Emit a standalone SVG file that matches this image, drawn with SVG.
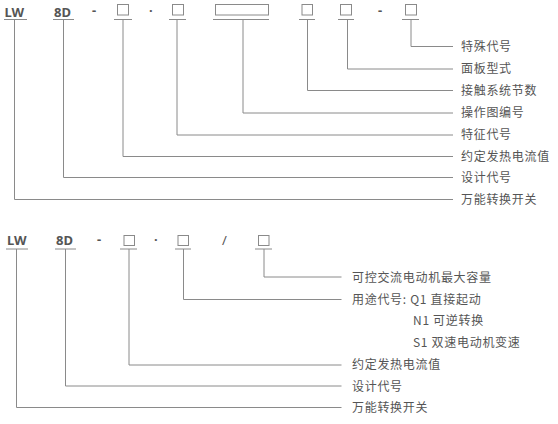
<svg xmlns="http://www.w3.org/2000/svg" width="558" height="424" viewBox="0 0 558 424">
<style>
.code{font-family:"Noto Sans","Noto Sans CJK SC",sans-serif;font-size:13px;font-weight:bold;fill:#555}
.thin{font-weight:normal}
.lbl{font-family:"Noto Sans CJK SC","Noto Sans",sans-serif;font-size:12px;fill:#555;letter-spacing:0.7px}
.box{fill:#fff;stroke:#8a8a8a;stroke-width:1}
.ln{fill:none;stroke:#8a8a8a;stroke-width:1}
</style>
<rect width="558" height="424" fill="#fff"/>
<g id="top">
<g id="t-lw"><text class="code" x="4.5" y="16.5">LW</text><line class="ln" x1="4" y1="19.5" x2="27" y2="19.5"/></g>
<g id="t-8d"><text class="code" x="54" y="16.5">8D</text><line class="ln" x1="53" y1="19.5" x2="74" y2="19.5"/></g>
<g id="t-dash1"><text class="code" x="92" y="15">-</text></g>
<g id="t-box1"><rect class="box" x="117.5" y="4.5" width="11" height="10.5"/><line class="ln" x1="114" y1="19.5" x2="132" y2="19.5"/></g>
<g id="t-dot"><text class="code" x="149" y="15">·</text></g>
<g id="t-box2"><rect class="box" x="172.5" y="4.5" width="11" height="10.5"/><line class="ln" x1="169" y1="19.5" x2="186" y2="19.5"/></g>
<g id="t-wide"><rect class="box" x="215.5" y="4.5" width="53" height="10.5"/><line class="ln" x1="213" y1="19.5" x2="269" y2="19.5"/></g>
<g id="t-box3"><rect class="box" x="302" y="4.5" width="10.5" height="10.5"/><line class="ln" x1="299" y1="19.5" x2="315" y2="19.5"/></g>
<g id="t-box4"><rect class="box" x="340.5" y="4.5" width="11" height="10.5"/><line class="ln" x1="338" y1="19.5" x2="354" y2="19.5"/></g>
<g id="t-dash2"><text class="code" x="378" y="15">-</text></g>
<g id="t-box5"><rect class="box" x="405.5" y="4.5" width="11" height="10.5"/><line class="ln" x1="402" y1="19.5" x2="419" y2="19.5"/></g>
<g id="t-labels">
<text class="lbl" x="461" y="51">特殊代号</text>
<text class="lbl" x="461" y="73">面板型式</text>
<text class="lbl" x="461" y="95">接触系统节数</text>
<text class="lbl" x="461" y="117">操作图编号</text>
<text class="lbl" x="461" y="139">特征代号</text>
<text class="lbl" x="461" y="161">约定发热电流值</text>
<text class="lbl" x="461" y="182">设计代号</text>
<text class="lbl" x="461" y="203.5">万能转换开关</text>
</g>
</g>
<g id="connectors-top">
<polyline class="ln" points="411,19.5 411,46.5 453,46.5"/>
<polyline class="ln" points="347.5,19.5 347.5,69 453,69"/>
<polyline class="ln" points="307.5,19.5 307.5,90.5 453,90.5"/>
<polyline class="ln" points="243,19.5 243,113 453,113"/>
<polyline class="ln" points="177,19.5 177,135 453,135"/>
<polyline class="ln" points="123,19.5 123,156.5 453,156.5"/>
<polyline class="ln" points="63.5,19.5 63.5,177.5 453,177.5"/>
<polyline class="ln" points="14.5,19.5 14.5,199.5 453,199.5"/>
</g>
<g id="bottom">
<g id="b-lw"><text class="code" x="7" y="245">LW</text><line class="ln" x1="6" y1="249" x2="28" y2="249"/></g>
<g id="b-8d"><text class="code" x="56" y="245">8D</text><line class="ln" x1="55" y1="249" x2="76" y2="249"/></g>
<g id="b-dash"><text class="code" x="97" y="244">-</text></g>
<g id="b-box1"><rect class="box" x="124" y="235.5" width="10.5" height="10"/><line class="ln" x1="120" y1="249" x2="137" y2="249"/></g>
<g id="b-dot"><text class="code" x="154" y="244">·</text></g>
<g id="b-box2"><rect class="box" x="178" y="235.5" width="10.5" height="10"/><line class="ln" x1="175" y1="249" x2="191" y2="249"/></g>
<g id="b-slash"><text class="code thin" x="222" y="245">/</text></g>
<g id="b-box3"><rect class="box" x="258.5" y="235.5" width="10.5" height="10"/><line class="ln" x1="255" y1="249" x2="272" y2="249"/></g>
<g id="b-labels">
<text class="lbl" x="352" y="281.5">可控交流电动机最大容量</text>
<text class="lbl" x="352" y="303.5">用途代号: Q1 直接起动</text>
<text class="lbl" x="413" y="325">N1 可逆转换</text>
<text class="lbl" x="413" y="347">S1 双速电动机变速</text>
<text class="lbl" x="352" y="369">约定发热电流值</text>
<text class="lbl" x="352" y="390.5">设计代号</text>
<text class="lbl" x="352" y="412">万能转换开关</text>
</g>
</g>
<g id="connectors-bottom">
<polyline class="ln" points="264,249 264,277 341.5,277"/>
<polyline class="ln" points="183.5,249 183.5,299.5 341.5,299.5"/>
<polyline class="ln" points="129,249 129,365 341.5,365"/>
<polyline class="ln" points="65.5,249 65.5,386 341.5,386"/>
<polyline class="ln" points="16.5,249 16.5,407.5 341.5,407.5"/>
</g>
</svg>
